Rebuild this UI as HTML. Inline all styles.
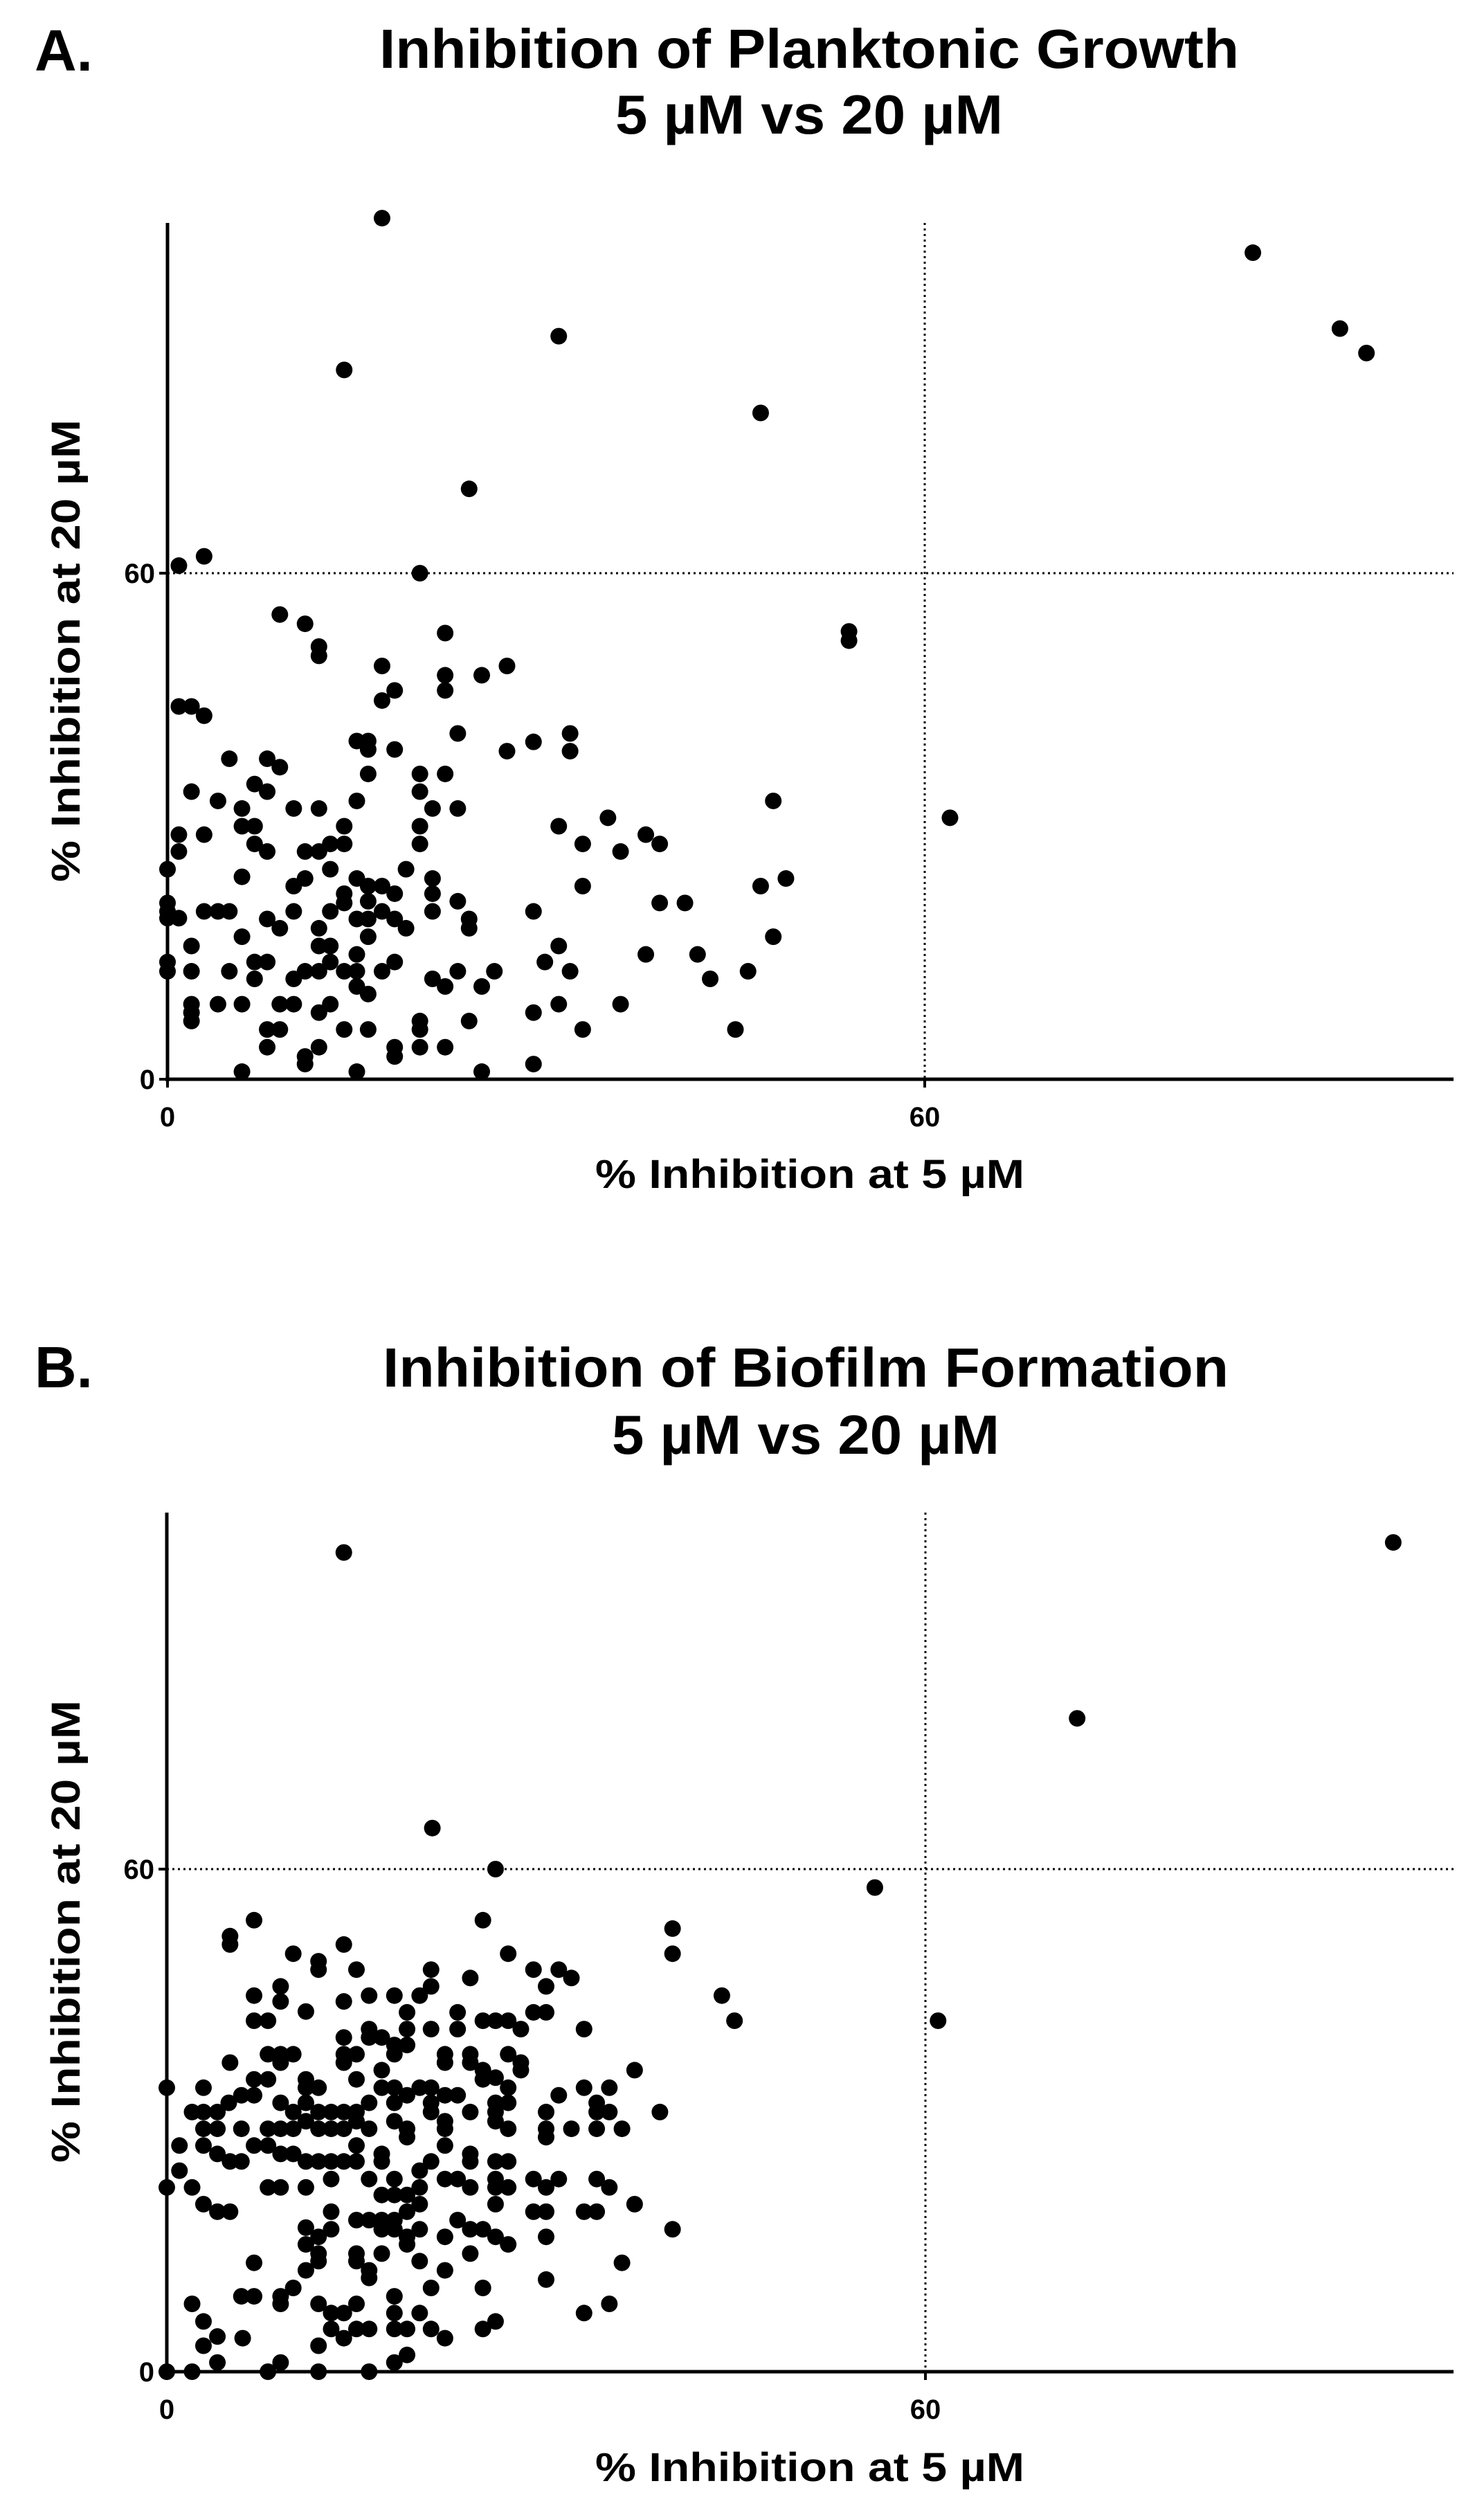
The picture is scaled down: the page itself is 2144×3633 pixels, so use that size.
<!DOCTYPE html>
<html><head><meta charset="utf-8"><style>
html,body{margin:0;padding:0;background:#fff}
svg{display:block}
text{font-family:"Liberation Sans",sans-serif;font-weight:bold;fill:#000}
</style></head><body>
<svg id="fig" width="2144" height="3633" viewBox="0 0 2144 3633">
<g id="panelA">
<text x="50" y="102" font-size="84">A.</text>
<text x="1169" y="98" font-size="80" text-anchor="middle" textLength="1242" lengthAdjust="spacingAndGlyphs">Inhibition of Planktonic Growth</text>
<text x="1169" y="193" font-size="80" text-anchor="middle" textLength="560" lengthAdjust="spacingAndGlyphs">5 µM vs 20 µM</text>
<text x="1170" y="1716" font-size="58" text-anchor="middle" textLength="620" lengthAdjust="spacingAndGlyphs">% Inhibition at 5 µM</text>
<text transform="translate(115,940) rotate(-90)" font-size="58" text-anchor="middle" textLength="668" lengthAdjust="spacingAndGlyphs">% Inhibition at 20 µM</text>
</g>
<g id="panelB">
<text x="50" y="2004" font-size="84">B.</text>
<text x="1164" y="2003" font-size="80" text-anchor="middle" textLength="1222" lengthAdjust="spacingAndGlyphs">Inhibition of Biofilm Formation</text>
<text x="1164" y="2100" font-size="80" text-anchor="middle" textLength="560" lengthAdjust="spacingAndGlyphs">5 µM vs 20 µM</text>
<text x="1170" y="3584" font-size="58" text-anchor="middle" textLength="620" lengthAdjust="spacingAndGlyphs">% Inhibition at 5 µM</text>
<text transform="translate(115,2790) rotate(-90)" font-size="58" text-anchor="middle" textLength="668" lengthAdjust="spacingAndGlyphs">% Inhibition at 20 µM</text>
</g>
</svg>
<script>
const xTicks = [0, 60];
const yTicks = [0, 60];
const refX = [60];
const refY = [60];
const aX = [17,86,31,92.9,95,14,47,23.9,0.9,2.9,20,8.9,10.9,12,12,22,54,54,26.9,24.9,22,22,17,18,17,0.9,1.9,2.9,23,15,15.9,15.9,18,26.9,29,31.9,31.9,4.9,7.9,8.9,15.9,20,20,22,1.9,4,6.9,7.9,15,21,23,10,12,5.9,5.9,6.9,0.9,2.9,0.9,6.9,7.9,10.9,12,12.9,14,14,20,20,31,34.9,32.9,35.9,37.9,39,48,62,0,12.9,18.9,5.9,10,10.9,15,15.9,17,21,21,23,32.9,47,49,0,0,0,0.9,2.9,4,4.9,10,12.9,14,14,15,15.9,15.9,17,18,18,18.9,21,23.9,23.9,29,39,41,7.9,8.9,12,1.9,5.9,12,12.9,15.9,15,31,48,37.9,42,0,0,1.9,4.9,6.9,7.9,6.9,10,10.9,12,12.9,14,15,15,15.9,17,18,21,22,23,24.9,25.9,29.9,31.9,43,46,1.9,1.9,1.9,4,5.9,8.9,10,12,12.9,29,31,35.9,23.9,7.9,8.9,14,15.9,20,20,32.9,45,7.9,10.9,10.9,12,18,18,20,22,29,5.9,15,24.9];
const aY = [102.1,98,88.1,89,86.1,84.1,79,70,60.9,62,60,55.1,54,51.3,50.2,52.9,53.1,52,49,47.9,47.9,46.1,49,46.1,44.9,44.2,44.2,43.1,41,40.1,40.1,39.1,39.1,38.9,40,41,38.9,38,38,37,36.2,36.2,34.1,36.2,34.1,33,35,34.1,33,32.1,32.1,32.1,32.1,32.1,30,30,29,29,27,27.9,27,27,27,27.9,27.9,30,30,27.9,30,31,27.9,27,29,27.9,33,31,24.9,24.9,24.9,24,22.9,23.8,23.8,22.9,22.9,23.8,22,21.1,22.9,22.9,23.8,20.9,19.9,19.1,19.1,19.9,19.9,19.9,19.9,19.9,22,20.9,19,21.1,19,19.9,22,19,17.9,19.9,19,17.9,19.9,20.9,20.9,19,17.9,17.9,15.8,16.9,15.8,15.8,16.9,14.8,15.8,16.9,14.8,14.8,13.9,12.8,12.8,12.8,13.9,13.9,11.9,11.9,12.8,12.8,13.9,12.8,12.8,11,10.1,12.8,13.9,11.9,11,12.8,11,12.8,13.9,12.8,11.9,12.8,8.9,7.9,6.9,8.9,8.9,8.9,8.9,7.9,8.9,7.9,8.9,8.9,6.9,5.9,5.9,5.9,5.9,6.9,5.9,5.9,5.9,3.8,2.7,1.8,3.8,3.8,2.7,3.8,3.8,1.8,0.9,0.9,0.9];
const bX = [97,72,14,21,26,56,61,43.9,44.9,40,40,6.9,5,5,25,14,10,12,12,15,27,20.9,20.9,24,29,31,32,30,9,6.9,9,11,14,16,18,20,6.9,8,16,16,17,19,19,18,19,14,14,14,15,20.9,23,23,25,26,27,28,29,30,33,8,9,10,9,5,17,18,22,22,24,24,27,28,28,25,26,37,0,2.9,6.9,8,11,11,12,15,17,18,18,19,20,20.9,20.9,22,23,25,26,27,27,33,35,31,2,2.9,4,4.9,5.9,6.9,9,10,11,12,13,14,15,16,20.9,24,26,30,34,34,35,39,2.9,4,5.9,8,9,10,11,12,13,14,15,16,18,19,19,22,22,26,27,30,32,34,36,1,2.9,4,5,5.9,6.9,8,9,10,11,12,13,14,15,15,17,17,20.9,22,24,24,26,27,30,1,0,2,8,9,11,13,16,18,18,20,22,23,26,29,31,34,17,19,20,24,26,27,30,35,2.9,4,5,13,15,16,17,18,19,20,26,29,30,33,34,37,11,12,13,17,18,19,20,22,23,24,25,26,40,11,12,15,17,19,20,24,27,30,6.9,12,15,36,11,16,16,22,30,5.9,6.9,9,10,9,18,20.9,25,2,12,13,14,15,18,20,33,35,2.9,4,6,13,14,15,16,18,19,20.9,22,25,26,2.9,4,12,18,19,0,2,8,9,12,16];
const bY = [99,78,97.8,64.9,60,57.8,41.9,44.9,41.9,52.9,49.9,53.9,52,51,53.9,51,49.9,49,48,48,49.9,48,46,47,48,48,47,46,46,44.9,44.2,43,44.2,44.9,44.9,44.9,41.9,41.9,40.9,39.9,39.9,42.9,40.9,39,39,39.9,37.9,36.9,37.9,40.9,42.9,40.9,41.9,41.9,41.9,40.9,42.9,42.9,40.9,37.9,37.9,37.9,36.9,36.9,36,37.9,37.9,36.9,37.9,36.9,37.9,36.9,36,36,35.1,36,33.9,33.9,34.9,34.9,34.9,33.9,33.9,34.9,33.9,33.9,32.1,33,33.9,33.9,32.1,33,33,34.9,32.1,33.9,32.1,33.9,33.9,33,31,31,31,32.1,33,33,32.1,31,32.1,31,31,31,31,32.1,31,31,31,31,32.1,31,31,31,29,29,29,29,29,29,29.9,29,29,29,29.9,29,29.9,29,28,29.9,29,29.9,29,29,29,29,29,27,27,26,25.1,25.1,27,27,26,26,25.1,25.1,25.1,25.1,27,25.1,26,25.1,25.1,27,26,25.1,25.1,25.1,28,24,22,22,22,22,22,23,23,23,21.1,24,23,23,23,23,23,23,21.1,21.1,22,22,22,22,22,22,20,19.1,19.1,19.1,18.1,18.1,18.1,18.1,19.1,20,20,19.1,19.1,19.1,19.1,20,17.2,16.1,17,17,17,16.1,17,16.1,18.1,17,17,16.1,17,15.2,14.1,14.1,14.1,15.2,13.2,14.1,15.2,16.1,13,13.2,13.2,13,12.1,12.1,11.2,12.1,11,9,9,9,10,8.1,9,10,10,8.1,8.1,7,7,8.1,7,7,7,8.1,6,4.2,4,5.1,4,5.1,5.1,5.1,5.1,5.1,4,5.1,6,3.1,1.1,3.1,1.1,2,0,0,0,1.1,0,0];

const NS = 'http://www.w3.org/2000/svg';
const svg = document.getElementById('fig');
function mk(tag, attrs, parent){const e=document.createElementNS(NS,tag);for(const k in attrs)e.setAttribute(k,attrs[k]);parent.appendChild(e);return e;}

function drawPanel(g, prefix, xs, ys, geo){
  const sx = v => geo.x0 + (geo.x60 - geo.x0) * v / 60;
  const sy = v => geo.y0 + (geo.y60 - geo.y0) * v / 60;
  refY.forEach(v=>{
    const l = mk('line',{x1:geo.x0,x2:geo.right,y1:sy(v),y2:sy(v),stroke:'#000','stroke-width':3,'stroke-dasharray':'3 5'},g);
    
    
  });
  refX.forEach(v=>{
    const l = mk('line',{x1:sx(v),x2:sx(v),y1:geo.top,y2:geo.y0,stroke:'#000','stroke-width':3,'stroke-dasharray':'3 5'},g);
    
    
  });
  const ya = mk('line',{x1:geo.x0,x2:geo.x0,y1:geo.top,y2:geo.y0+3,stroke:'#000','stroke-width':5},g);
  
  
  const xa = mk('line',{x1:geo.x0-3,x2:geo.right,y1:geo.y0,y2:geo.y0,stroke:'#000','stroke-width':5},g);
  
  
  xTicks.forEach(v=>{
    mk('line',{x1:sx(v),x2:sx(v),y1:geo.y0,y2:geo.y0+12,stroke:'#000','stroke-width':4},g);
    const t = mk('text',{x:sx(v),y:geo.y0+68,'font-size':40,'text-anchor':'middle'},g);
    t.textContent = v;
    
    
  });
  yTicks.forEach(v=>{
    mk('line',{x1:geo.x0-12,x2:geo.x0,y1:sy(v),y2:sy(v),stroke:'#000','stroke-width':4},g);
    const t = mk('text',{x:geo.x0-18,y:sy(v)+14,'font-size':40,'text-anchor':'end'},g);
    t.textContent = v;
    
    
  });
  xs.forEach((v,i)=>{
    const c = mk('circle',{cx:sx(v),cy:sy(ys[i]),r:12,fill:'#000'},g);
    
    
  });
}
drawPanel(document.getElementById('panelA'),'panel-a',aX,aY,{x0:242,x60:1336,y0:1559,y60:828,top:322,right:2100});
drawPanel(document.getElementById('panelB'),'panel-b',bX,bY,{x0:241,x60:1337,y0:3426,y60:2700,top:2185,right:2100});
</script>
</body></html>
